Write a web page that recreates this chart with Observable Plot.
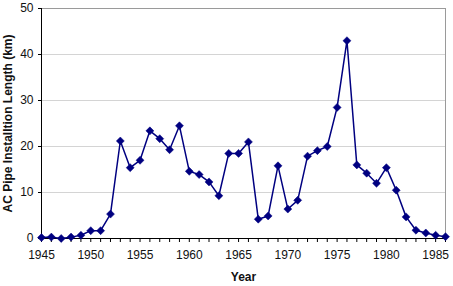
<!DOCTYPE html>
<html>
<head>
<meta charset="utf-8">
<script src="https://cdn.jsdelivr.net/npm/d3@7"></script>
<script src="https://cdn.jsdelivr.net/npm/@observablehq/plot@0.6"></script>
<style>
  html, body { margin: 0; padding: 0; background: #fff; }
  #chart svg { display: block; }
</style>
</head>
<body>
<div id="chart"></div>
<script>
// Annual length of asbestos-cement pipe installed (km)
const years = [
  1945, 1946, 1947, 1948, 1949, 1950, 1951, 1952, 1953, 1954,
  1955, 1956, 1957, 1958, 1959, 1960, 1961, 1962, 1963, 1964,
  1965, 1966, 1967, 1968, 1969, 1970, 1971, 1972, 1973, 1974,
  1975, 1976, 1977, 1978, 1979, 1980, 1981, 1982, 1983, 1984,
  1985, 1986
];
const lengthKm = [
  0.2, 0.3, 0.0, 0.3, 0.7, 1.7, 1.7, 5.3, 21.2, 15.4,
  17.0, 23.4, 21.7, 19.3, 24.5, 14.6, 13.9, 12.3, 9.3, 18.5,
  18.5, 21.0, 4.2, 4.9, 15.8, 6.4, 8.3, 17.9, 19.1, 20.0,
  28.5, 43.0, 16.0, 14.2, 12.0, 15.4, 10.5, 4.7, 1.8, 1.2,
  0.7, 0.4
];
const yTicks = [0, 10, 20, 30, 40, 50];
const xLabelTicks = [1945, 1950, 1955, 1960, 1965, 1970, 1975, 1980, 1985];
const xTitle = "Year";
const yTitle = "AC Pipe Installtion Length (km)";

const data = years.map((year, i) => ({year, value: lengthKm[i]}));

const navy = "#000080";

const chart = Plot.plot({
  width: 453,
  height: 286,
  marginLeft: 41,
  marginRight: 8,
  marginTop: 8,
  marginBottom: 48,
  style: {fontFamily: "'Liberation Sans', Arial, sans-serif", fontSize: "12px", color: "#000", background: "#fff"},
  x: {type: "linear", domain: [1945, 1986]},
  y: {domain: [0, 50]},
  marks: [
    Plot.gridY(yTicks.slice(1), {stroke: "#d4d4d4", strokeOpacity: 1}),
    Plot.frame({stroke: "#9a9a9a"}),
    // a tick for every year along the bottom axis
    Plot.axisX(years, {tickSize: 4, tickFormat: () => "", label: null, stroke: "#000"}),
    Plot.axisX(xLabelTicks, {tickSize: 0, tickPadding: 12, tickFormat: d => String(d), label: xTitle, labelAnchor: "center", labelArrow: "none", labelOffset: 42, fontSize: 12, fill: "#111"}),
    Plot.axisY(yTicks, {tickSize: 3, tickPadding: 5, fontSize: 12, label: yTitle, labelAnchor: "center", labelArrow: "none", labelOffset: 38, fill: "#111"}),
    Plot.ruleX([1945], {stroke: "#000"}),
    Plot.ruleY([0], {stroke: "#000"}),
    Plot.line(data, {x: "year", y: "value", stroke: navy, strokeWidth: 1.5}),
    Plot.dot(data, {x: "year", y: "value", symbol: "diamond2", fill: navy, stroke: navy, strokeWidth: 0.5, r: 3.6})
  ]
});

// bold axis titles
chart.querySelectorAll("[aria-label='x-axis label'] text, [aria-label='y-axis label'] text").forEach(t => {
  t.setAttribute("font-weight", "bold");
});

document.getElementById("chart").appendChild(chart);
</script>
</body>
</html>
